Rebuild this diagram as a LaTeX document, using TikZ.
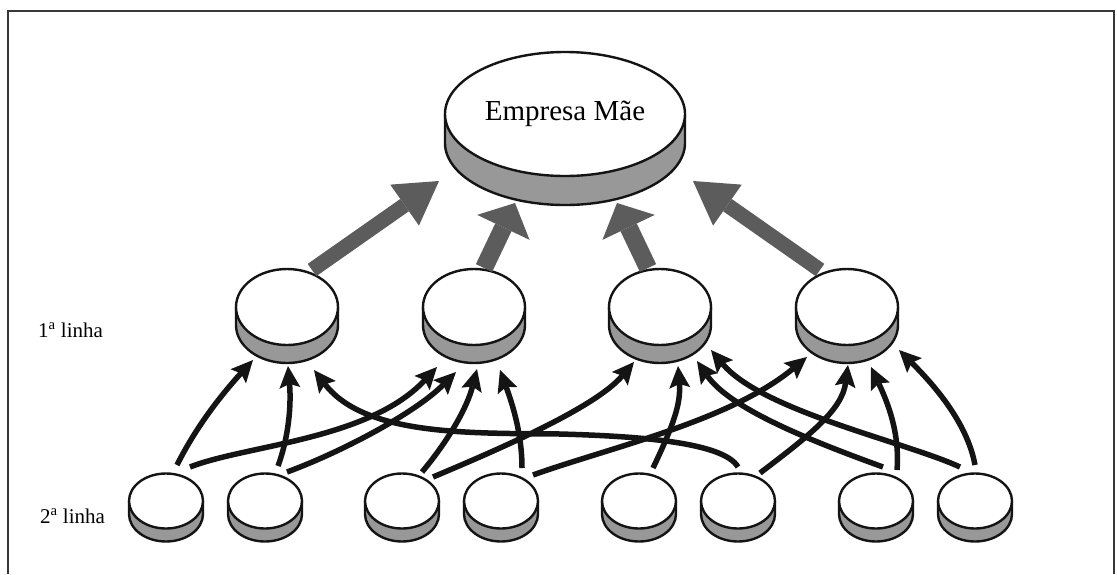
\documentclass[tikz,border=0pt]{standalone}
\usepackage{fontspec}
\setmainfont{Liberation Serif}
\usetikzlibrary{shapes.geometric,arrows.meta}
\definecolor{bandgray}{HTML}{989898}
\definecolor{arrowgray}{HTML}{5C5C5C}
\definecolor{ink}{HTML}{141414}
% #1 name, #2 x, #3 y, #4 rx, #5 ry, #6 band thickness, #7 text
\newcommand\mkdisk[7]{%
  \path[diskband] (#2-#4,#3) -- (#2-#4,#3+#6)
     arc[start angle=180, end angle=360, x radius=#4pt, y radius=#5pt]
     -- (#2+#4,#3) -- cycle;
  \node[diskface, minimum width={2*#4pt}, minimum height={2*#5pt}] (#1) at (#2,#3) {#7};
}
\begin{document}
\begin{tikzpicture}[x=1pt,y=-1pt,
  diskface/.style={ellipse, draw=ink, fill=white, line width=2.4pt, inner sep=0pt},
  diskband/.style={fill=bandgray, draw=ink, line width=2.4pt, line join=round},
  conn/.style={draw=ink, line width=5.5pt, -{Stealth[length=22pt,width=21pt,inset=4pt,line width=0pt]}},
  bigarrow/.style={draw=arrowgray},
  lab/.style={font=\fontsize{21}{25}\selectfont, inner sep=0pt, anchor=base west},
]
\useasboundingbox (0,0) rectangle (1117,574);
\draw[ink!85, line width=2.5pt] (8,574) -- (8,11) -- (1114,11) -- (1114,574);

% disks
\mkdisk{top}{565}{114}{120}{62}{29}{\fontsize{29}{34}\selectfont Empresa Mãe}
\mkdisk{A}{287}{307}{51}{38}{18}{}
\mkdisk{B}{474}{307}{51}{38}{18}{}
\mkdisk{C}{660}{307}{51}{38}{18}{}
\mkdisk{D}{847}{307}{51}{38}{18}{}
\mkdisk{a}{166}{501}{37}{27.5}{13}{}
\mkdisk{b}{265}{501}{37}{27.5}{13}{}
\mkdisk{c}{402}{501}{37}{27.5}{13}{}
\mkdisk{d}{501}{501}{37}{27.5}{13}{}
\mkdisk{e}{639}{501}{37}{27.5}{13}{}
\mkdisk{f}{738}{501}{37}{27.5}{13}{}
\mkdisk{g}{876}{501}{37}{27.5}{13}{}
\mkdisk{h}{975}{501}{37}{27.5}{13}{}

% big grey arrows
\begin{scope}[on background layer/.style={}]
\draw[bigarrow, line width=15pt, -{Triangle[length=42pt,width=50pt,line width=0pt]}]
  ([shift={(25,-37)}]A.center) -- ([shift={(-126,67)}]top.center);
\draw[bigarrow, line width=18pt, -{Triangle[length=27pt,width=58pt,line width=0pt]}]
  ([shift={(10,-39)}]B.center) -- ([shift={(-50,89)}]top.center);
\draw[bigarrow, line width=18pt, -{Triangle[length=27pt,width=58pt,line width=0pt]}]
  ([shift={(-12,-39)}]C.center) -- ([shift={(52,89)}]top.center);
\draw[bigarrow, line width=15pt, -{Triangle[length=42pt,width=50pt,line width=0pt]}]
  ([shift={(-27,-37)}]D.center) -- ([shift={(128,67)}]top.center);
\end{scope}

% labels
\node[lab] (l1) at (38,337) {1\textsuperscript{a} linha};
\node[lab] (l2) at (40,523) {2\textsuperscript{a} linha};

% connectors from 2nd line to 1st line
\draw[conn] ([shift={(11,-36)}]a.center) .. controls +(20,-40) and +(-30,33) .. ([shift={(-34,53)}]A.center);
\draw[conn] ([shift={(24,-34)}]a.center) .. controls +(56,-22) and +(-68,73) .. ([shift={(-37,60)}]B.center);
\draw[conn] ([shift={(13,-35)}]b.center) .. controls +(12,-33) and +(3,35) .. ([shift={(1,59)}]A.center);
\draw[conn] ([shift={(22,-29)}]b.center) .. controls +(52,-19) and +(-42,42) .. ([shift={(-18,65)}]B.center);
\draw[conn] ([shift={(20,-29)}]c.center) .. controls +(26,-31) and +(-10,39) .. ([shift={(3,62)}]B.center);
\draw[conn] ([shift={(31,-24)}]c.center) .. controls +(64,-27) and +(-39,46) .. ([shift={(-26,55)}]C.center);
\draw[conn] ([shift={(21,-33)}]d.center) .. controls +(0,-35) and +(12,33) .. ([shift={(26,63)}]B.center);
\draw[conn] ([shift={(32,-26)}]d.center) .. controls +(75,-27) and +(-77,64) .. ([shift={(-40,50)}]D.center);
\draw[conn] ([shift={(14,-33)}]e.center) .. controls +(20,-42) and +(3,38) .. ([shift={(18,59)}]C.center);
\draw[conn] ([shift={(0,-34)}]f.center) .. controls +(-15,-26) and +(70,2) .. (560,434)
   .. controls +(-90,-1) and +(51,66) .. ([shift={(27,63)}]A.center);
\draw[conn] ([shift={(22,-28)}]f.center) .. controls +(50,-38) and +(-6,45) .. ([shift={(1,58)}]D.center);
\draw[conn] ([shift={(7,-34)}]g.center) .. controls +(-66,-24) and +(34,49) .. ([shift={(37,54)}]C.center);
\draw[conn] ([shift={(21,-31)}]g.center) .. controls +(3,-38) and +(16,34) .. ([shift={(24,60)}]D.center);
\draw[conn] ([shift={(-15,-34)}]h.center) .. controls +(-54,-25) and +(51,61) .. ([shift={(51,43)}]C.center);
\draw[conn] ([shift={(0,-36)}]h.center) .. controls +(-8,-44) and +(32,32) .. ([shift={(52,43)}]D.center);
\end{tikzpicture}
\end{document}
